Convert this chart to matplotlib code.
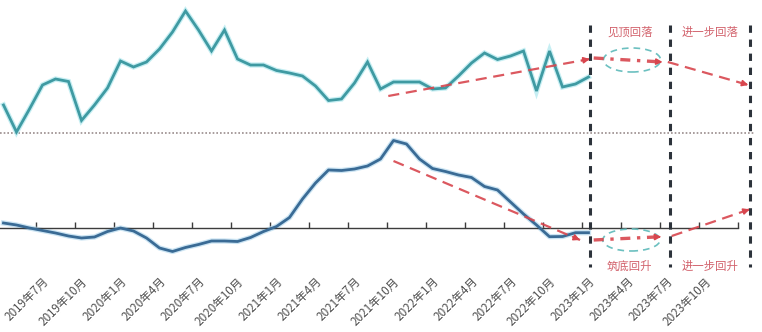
import matplotlib
matplotlib.use("Agg")
import matplotlib.pyplot as plt
import matplotlib.transforms as mtransforms
from matplotlib.lines import Line2D
from matplotlib.patches import Ellipse
import numpy as np

plt.rcParams['font.family'] = ['Noto Sans CJK SC', 'DejaVu Sans']

# ---------------- data (monthly, 2019-04 .. 2023-01) ----------------
months = ['2019-04', '2019-05', '2019-06', '2019-07', '2019-08', '2019-09', '2019-10', '2019-11',
          '2019-12', '2020-01', '2020-02', '2020-03', '2020-04', '2020-05', '2020-06', '2020-07',
          '2020-08', '2020-09', '2020-10', '2020-11', '2020-12', '2021-01', '2021-02', '2021-03',
          '2021-04', '2021-05', '2021-06', '2021-07', '2021-08', '2021-09', '2021-10', '2021-11',
          '2021-12', '2022-01', '2022-02', '2022-03', '2022-04', '2022-05', '2022-06', '2022-07',
          '2022-08', '2022-09', '2022-10', '2022-11', '2022-12', '2023-01']

upper_series = [2.8, 0.1, 2.4, 4.8, 5.4, 5.15, 1.25, 2.8, 4.5, 7.2, 6.6, 7.1, 8.4, 10.1,
                12.2, 10.3, 8.2, 10.3, 7.4, 6.8, 6.8, 6.25, 6.0, 5.7, 4.7, 3.25, 3.4, 5.0,
                7.1, 4.4, 5.1, 5.1, 5.1, 4.4, 4.5, 5.7, 7.0, 8.0, 7.35, 7.7, 8.2, 4.2,
                8.2, 4.6, 4.9, 5.6]

lower_series = [0.5, 0.3, 0.0, -0.25, -0.5, -0.8, -1.0, -0.9, -0.35, 0.0, -0.3, -1.0,
                -2.0, -2.35, -1.95, -1.65, -1.3, -1.3, -1.35, -0.95, -0.35, 0.15, 1.05,
                2.9, 4.5, 5.8, 5.75, 5.9, 6.2, 6.9, 8.75, 8.4, 6.9, 5.95, 5.65, 5.3, 5.05,
                4.15, 3.8, 2.6, 1.4, 0.3, -0.87, -0.85, -0.47, -0.47]

tick_labels = ['2019年7月', '2019年10月', '2020年1月', '2020年4月', '2020年7月', '2020年10月',
               '2021年1月', '2021年4月', '2021年7月', '2021年10月', '2022年1月', '2022年4月',
               '2022年7月', '2022年10月', '2023年1月', '2023年4月', '2023年7月', '2023年10月']

# phase boundaries (month index from 2019-04)
phase_bounds = [45.1, 51.25, 57.4]

# trend annotations: (start_x, start_y, end_x, end_y)
upper_trend = [29.6, 3.7, 45.1, 7.4]
upper_flat = [45.4, 7.5, 50.7, 7.1]
upper_next = [51.1, 7.1, 57.3, 4.8]
upper_ellipse = [48.35, 7.3, 4.4, 2.4]

lower_trend = [30.0, 6.7, 44.35, -1.2]
lower_flat = [45.4, -1.2, 50.6, -0.87]
lower_next = [51.4, -0.8, 57.4, 1.87]
lower_ellipse = [48.3, -1.2, 4.4, 2.2]

phase_text_upper = ['见顶回落', '进一步回落']
phase_text_lower = ['筑底回升', '进一步回升']

# ---------------- figure ----------------
W, H = 762, 332
fig = plt.figure(figsize=(W / 100, H / 100), dpi=100)

x = np.arange(len(months))
xlim = (-3.5 / 13, (W - 3.5) / 13)

ax_top = fig.add_axes([0, (H - 140) / H, 1, 140 / H])
ax_bot = fig.add_axes([0, (H - 270) / H, 1, 135 / H])

for ax in (ax_top, ax_bot):
    ax.set_xlim(*xlim)
    ax.patch.set_alpha(0)
    for s in ax.spines.values():
        s.set_visible(False)
    ax.set_yticks([])

ax_top.set_ylim(-0.7, 13.3)
ax_bot.set_ylim(-4.2, 9.3)

# upper series with soft glow
ax_top.plot(x, upper_series, color='#aee8ee', lw=3.8, solid_joinstyle='miter', zorder=2, alpha=0.7)
ax_top.plot(x, upper_series, color='#3f9aa2', lw=2.0, solid_joinstyle='miter', zorder=3)
ax_top.axhline(0, xmin=0, xmax=755 / W, color='#9a8c8c', lw=1.2, ls=(0, (1, 1.2)), zorder=1)
ax_top.set_xticks([])

# lower series
ax_bot.plot(x, lower_series, color='#b5d9ee', lw=3.8, zorder=2, alpha=0.7)
ax_bot.plot(x, lower_series, color='#3a6b95', lw=2.0, zorder=3)

# zero axis with inward ticks and far-away rotated labels
ax_bot.spines['bottom'].set_visible(True)
ax_bot.spines['bottom'].set_position(('data', 0))
ax_bot.spines['bottom'].set_color('#3c3c3c')
ax_bot.spines['bottom'].set_linewidth(1.0)
ax_bot.spines['bottom'].set_bounds(xlim[0], 56.5)
major = np.arange(2.5, 57, 3)
minor = np.arange(3, 55, 3)
ax_bot.set_xticks(major)
ax_bot.set_xticklabels([])
ax_bot.set_xticks(minor, minor=True)
ax_bot.set_xticklabels(tick_labels, minor=True, rotation=45, ha='right', va='center',
                       rotation_mode='anchor', fontsize=8.4, color='#505050')
ax_bot.tick_params(axis='x', which='major', direction='in', length=4, width=1, color='#3c3c3c')
ax_bot.tick_params(axis='x', which='minor', length=0, pad=37)
shift = mtransforms.ScaledTranslation(4 / 100, 0, fig.dpi_scale_trans)
for lab in ax_bot.get_xticklabels(minor=True):
    lab.set_transform(lab.get_transform() + shift)

# vertical dashed phase boundaries across both panels
trans = mtransforms.blended_transform_factory(ax_bot.transData, fig.transFigure)
for b in phase_bounds:
    fig.add_artist(Line2D([b, b], [(H - 25) / H, (H - 267) / H], transform=trans,
                          color='#2d333b', lw=2.2, dashes=(2.4, 2.2), zorder=5))

red = '#d8464e'
pink = '#d2626c'


def dashed_arrow(ax, seg, head=True, lw=1.6, dashes=(5, 3)):
    x0, y0, x1, y1 = seg
    ax.plot([x0, x1], [y0, y1], color=red, lw=lw, dashes=dashes, zorder=6, alpha=0.9)
    if head:
        ax.annotate('', xy=(x1, y1), xytext=(x1 - (x1 - x0) * 0.04, y1 - (y1 - y0) * 0.04),
                    arrowprops=dict(arrowstyle='-|>', color=red, lw=1.2,
                                    mutation_scale=9, shrinkA=0, shrinkB=0), zorder=6)


for ax, trend, flat, nxt, ell, texts, ty in (
        (ax_top, upper_trend, upper_flat, upper_next, upper_ellipse, phase_text_upper, 10.1),
        (ax_bot, lower_trend, lower_flat, lower_next, lower_ellipse, phase_text_lower, -3.85)):
    dashed_arrow(ax, trend)
    dashed_arrow(ax, flat, head=True, lw=2.4, dashes=(3, 2, 1, 2))
    dashed_arrow(ax, nxt)
    ax.add_patch(Ellipse((ell[0], ell[1]), ell[2], ell[3], fill=False, ec='#6cc0c0',
                         lw=1.2, ls=(0, (4, 3)), zorder=4))
    centers = [(phase_bounds[0] + phase_bounds[1]) / 2, (phase_bounds[1] + phase_bounds[2]) / 2]
    for cx, t in zip(centers, texts):
        ax.text(cx, ty, t, ha='center', va='center', color=pink, fontsize=8.2, zorder=7)

fig.savefig('out.png', dpi=100)
